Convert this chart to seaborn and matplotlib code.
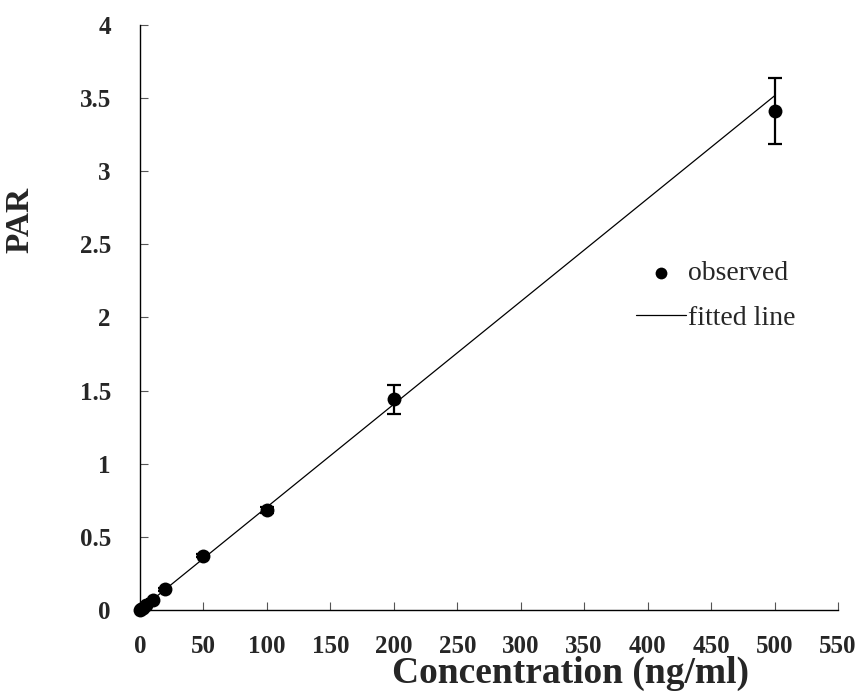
import matplotlib
matplotlib.use("Agg")
import matplotlib.pyplot as plt
import seaborn as sns
import pandas as pd

# Calibration data: concentration (ng/ml) vs peak area ratio (PAR)
concentration = [0, 1, 2, 5, 10, 20, 50, 100, 200, 500]
par_mean = [0.0, 0.006, 0.014, 0.035, 0.07, 0.14, 0.37, 0.685, 1.44, 3.41]
par_sd = [0.0, 0.002, 0.003, 0.004, 0.006, 0.008, 0.012, 0.02, 0.10, 0.225]

# Linear regression fit
slope = 0.00703
intercept = 0.0
fit_x = [0, 500]

x_ticks = [0, 50, 100, 150, 200, 250, 300, 350, 400, 450, 500, 550]
y_ticks = [0, 0.5, 1, 1.5, 2, 2.5, 3, 3.5, 4]
y_tick_labels = ["0", "0.5", "1", "1.5", "2", "2.5", "3", "3.5", "4"]

sns.set_style("ticks")
plt.rcParams["font.family"] = ["Liberation Serif", "DejaVu Serif"]

obs = pd.DataFrame({"conc": concentration, "par": par_mean})
fit = pd.DataFrame({"conc": fit_x,
                    "par": [slope * v + intercept for v in fit_x]})

fig = plt.figure(figsize=(8.59, 6.93), dpi=100)
ax = fig.add_axes([0.163, 0.12, 0.8125, 0.844])

sns.lineplot(data=fit, x="conc", y="par", color="black", linewidth=0.9,
             ax=ax, label="fitted line", zorder=2)
ax.errorbar(concentration, par_mean, yerr=par_sd, fmt="none",
            ecolor="black", elinewidth=1.6, capsize=5, capthick=1.6,
            zorder=3)
sns.scatterplot(data=obs, x="conc", y="par", color="black", s=100,
                edgecolor="black", linewidth=0, ax=ax, label="observed",
                zorder=4, clip_on=False)

ax.set_xlim(0, 550)
ax.set_ylim(0, 4)
ax.set_xticks(x_ticks)
ax.set_xticklabels([str(t) for t in x_ticks])
ax.set_yticks(y_ticks)
ax.set_yticklabels(y_tick_labels)

for lab in ax.get_xticklabels() + ax.get_yticklabels():
    lab.set_fontweight("bold")
    lab.set_fontsize(18)

ax.tick_params(axis="both", direction="in", length=6, width=0.8,
               color="#555555")
ax.tick_params(axis="x", pad=18)
ax.tick_params(axis="y", pad=21)

sns.despine(ax=ax)
for side in ("left", "bottom"):
    ax.spines[side].set_linewidth(1.0)
    ax.spines[side].set_color("black")

ax.set_xlabel("Concentration (ng/ml)", fontsize=27, fontweight="bold")
ax.xaxis.set_label_coords(0.617, -0.078)
ax.set_ylabel("PAR", fontsize=24, fontweight="bold")
ax.yaxis.set_label_coords(-0.150, 0.667)

handles, labels = ax.get_legend_handles_labels()
order = [labels.index("observed"), labels.index("fitted line")]
ax.legend([handles[i] for i in order], [labels[i] for i in order],
          loc="center left", bbox_to_anchor=(0.711, 0.537), frameon=False,
          fontsize=20, handlelength=1.8, handletextpad=0.05,
          labelspacing=0.7, markerscale=0.85, borderpad=0,
          borderaxespad=0)

fig.savefig("out.png", dpi=100)
